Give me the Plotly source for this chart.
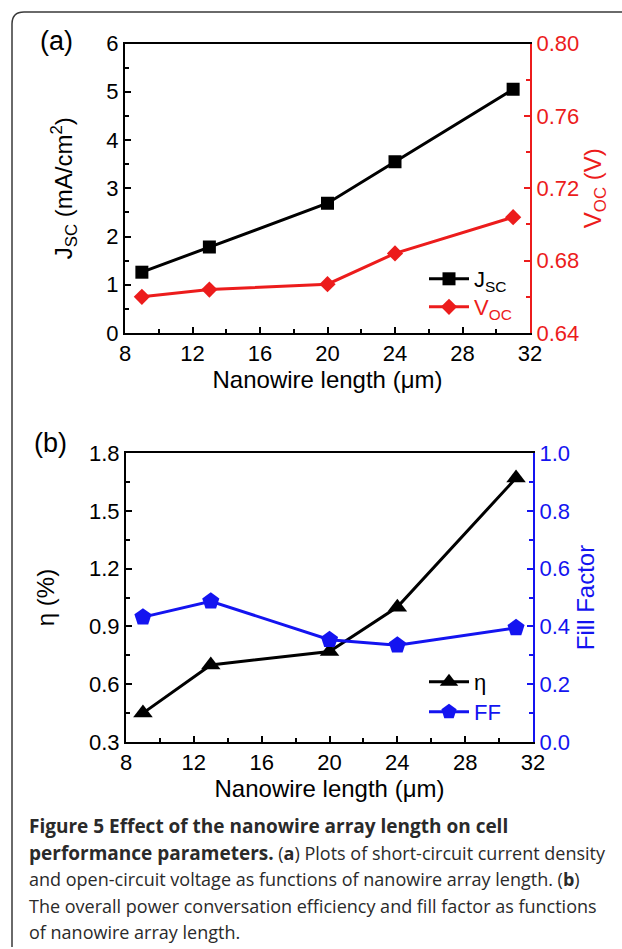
import plotly.graph_objects as go

# ---- data ----
length_um = [9, 13, 20, 24, 31]
jsc_mA_cm2 = [1.26, 1.78, 2.69, 3.55, 5.05]
voc_V = [0.660, 0.664, 0.667, 0.684, 0.704]
eta_pct = [0.45, 0.70, 0.77, 1.00, 1.67]
fill_factor = [0.432, 0.487, 0.354, 0.335, 0.395]

x_ticks = [8, 12, 16, 20, 24, 28, 32]

W, H = 622, 949
RED = "#ec1c1c"
BLUE = "#1414f0"
AX_FONT = "Liberation Sans, Arial, sans-serif"
CAP_FONT = "Open Sans, sans-serif"


def px_x(v):
    return v / W


def px_y(v):
    return 1 - v / H


fig = go.Figure()

fig.add_trace(go.Scatter(x=length_um, y=jsc_mA_cm2, mode="lines+markers",
                         name="J<sub>SC</sub>", xaxis="x", yaxis="y",
                         line=dict(color="black", width=3),
                         marker=dict(symbol="square", size=13, color="black"),
                         legend="legend"))
fig.add_trace(go.Scatter(x=length_um, y=voc_V, mode="lines+markers",
                         name="<span style='color:%s'>V<sub>OC</sub></span>" % RED,
                         xaxis="x", yaxis="y2",
                         line=dict(color=RED, width=3),
                         marker=dict(symbol="diamond", size=12.5, color=RED),
                         legend="legend2"))
fig.add_trace(go.Scatter(x=length_um, y=eta_pct, mode="lines+markers",
                         name="η", xaxis="x2", yaxis="y3",
                         line=dict(color="black", width=3),
                         marker=dict(symbol="triangle-up", size=17, color="black"),
                         legend="legend3"))
fig.add_trace(go.Scatter(x=length_um, y=fill_factor, mode="lines+markers",
                         name="<span style='color:%s'>FF</span>" % BLUE,
                         xaxis="x2", yaxis="y4",
                         line=dict(color=BLUE, width=3),
                         marker=dict(symbol="pentagon", size=18, color=BLUE),
                         legend="legend4"))

TICK_SIZE = 22
TITLE_SIZE = 24


def xax(domain, anchor):
    return dict(domain=domain, anchor=anchor, range=[8, 32], tickvals=x_ticks,
                showgrid=False, zeroline=False, showline=True, mirror=True,
                linecolor="black", linewidth=2, ticks="inside", ticklen=6,
                tickwidth=2, tickcolor="black",
                tickfont=dict(family=AX_FONT, size=TICK_SIZE, color="black"),
                minor=dict(dtick=2, ticks="inside", ticklen=4, tickwidth=2,
                           tickcolor="black", showgrid=False),
                title=dict(text="Nanowire length (μm)",
                           font=dict(family=AX_FONT, size=TITLE_SIZE, color="black"),
                           standoff=6),
                automargin=False)


def yax(domain, anchor, rng, dtick, minor, fmt, color, title, side="left",
        overlaying=None, standoff=20):
    d = dict(domain=domain, anchor=anchor, range=rng, dtick=dtick, tick0=rng[0],
             tickformat=fmt, showgrid=False, zeroline=False, showline=True,
             linecolor=color, linewidth=2, ticks="inside", ticklen=6, tickwidth=2,
             tickcolor=color, tickfont=dict(family=AX_FONT, size=TICK_SIZE, color=color),
             minor=dict(dtick=minor, ticks="inside", ticklen=4, tickwidth=2,
                        tickcolor=color, showgrid=False),
             title=dict(text=title, font=dict(family=AX_FONT, size=TITLE_SIZE, color=color),
                        standoff=standoff),
             side=side, automargin=False)
    if overlaying:
        d["overlaying"] = overlaying
    return d


xa = [px_x(125), px_x(530)]
ya = [px_y(333), px_y(43.5)]
xb = [px_x(126), px_x(533)]
yb = [px_y(742), px_y(453)]


def leg(xp, yp):
    return dict(x=px_x(xp), y=px_y(yp), xanchor="left", yanchor="middle",
                bgcolor="rgba(0,0,0,0)", itemwidth=40,
                font=dict(family=AX_FONT, size=22, color="black"))


fig.update_layout(
    width=W, height=H,
    margin=dict(l=0, r=0, t=0, b=0),
    paper_bgcolor="white", plot_bgcolor="white",
    xaxis=xax(xa, "y"),
    yaxis=yax(ya, "x", [0, 6], 1, 0.5, "d", "black",
              "J<sub>SC</sub> (mA/cm<sup>2</sup>)", standoff=27),
    yaxis2=yax(ya, "x", [0.64, 0.80], 0.04, 0.02, ".2f", RED,
               "V<sub>OC</sub> (V)", side="right", overlaying="y", standoff=4),
    xaxis2=xax(xb, "y3"),
    yaxis3=yax(yb, "x2", [0.3, 1.8], 0.3, 0.15, ".1f", "black", "η (%)", standoff=28),
    yaxis4=yax(yb, "x2", [0.0, 1.0], 0.2, 0.1, ".1f", BLUE, "Fill Factor",
               side="right", overlaying="y3", standoff=8),
    legend=leg(424, 279),
    legend2=leg(424, 307),
    legend3=leg(424, 682),
    legend4=leg(424, 712),
    showlegend=True,
)

# panel labels
fig.add_annotation(x=px_x(56), y=px_y(41), xref="paper", yref="paper", text="(a)",
                   xanchor="center", yanchor="middle", showarrow=False,
                   font=dict(family=AX_FONT, size=27, color="black"))
fig.add_annotation(x=px_x(50), y=px_y(443), xref="paper", yref="paper", text="(b)",
                   xanchor="center", yanchor="middle", showarrow=False,
                   font=dict(family=AX_FONT, size=27, color="black"))

# caption
BOLD = "<span style='font-size:19px'><b>%s</b></span>"
caption_lines = [
    BOLD % "Figure 5 Effect of the nanowire array length on cell",
    BOLD % "performance parameters." + " (<b>a</b>) Plots of short-circuit current density",
    "and open-circuit voltage as functions of nanowire array length. (<b>b</b>)",
    "The overall power conversation efficiency and fill factor as functions",
    "of nanowire array length.",
]
for i, line in enumerate(caption_lines):
    fig.add_annotation(x=px_x(27), y=px_y(826 + 26.5 * i), xref="paper", yref="paper",
                       xanchor="left", yanchor="middle", text=line, showarrow=False,
                       align="left", font=dict(family=CAP_FONT, size=18, color="#2a2a2a"))

# outer frame (top and left border with rounded corner)
x0, x1 = px_x(12), px_x(24)
yt, y1, yb_ = px_y(12), px_y(24), px_y(947)
fig.add_shape(type="path", xref="paper", yref="paper",
              path=f"M {x0},{yb_} L {x0},{y1} Q {x0},{yt} {x1},{yt} L 1,{yt}",
              line=dict(color="#3a3a3a", width=1.5))

fig.write_html("out.html")
